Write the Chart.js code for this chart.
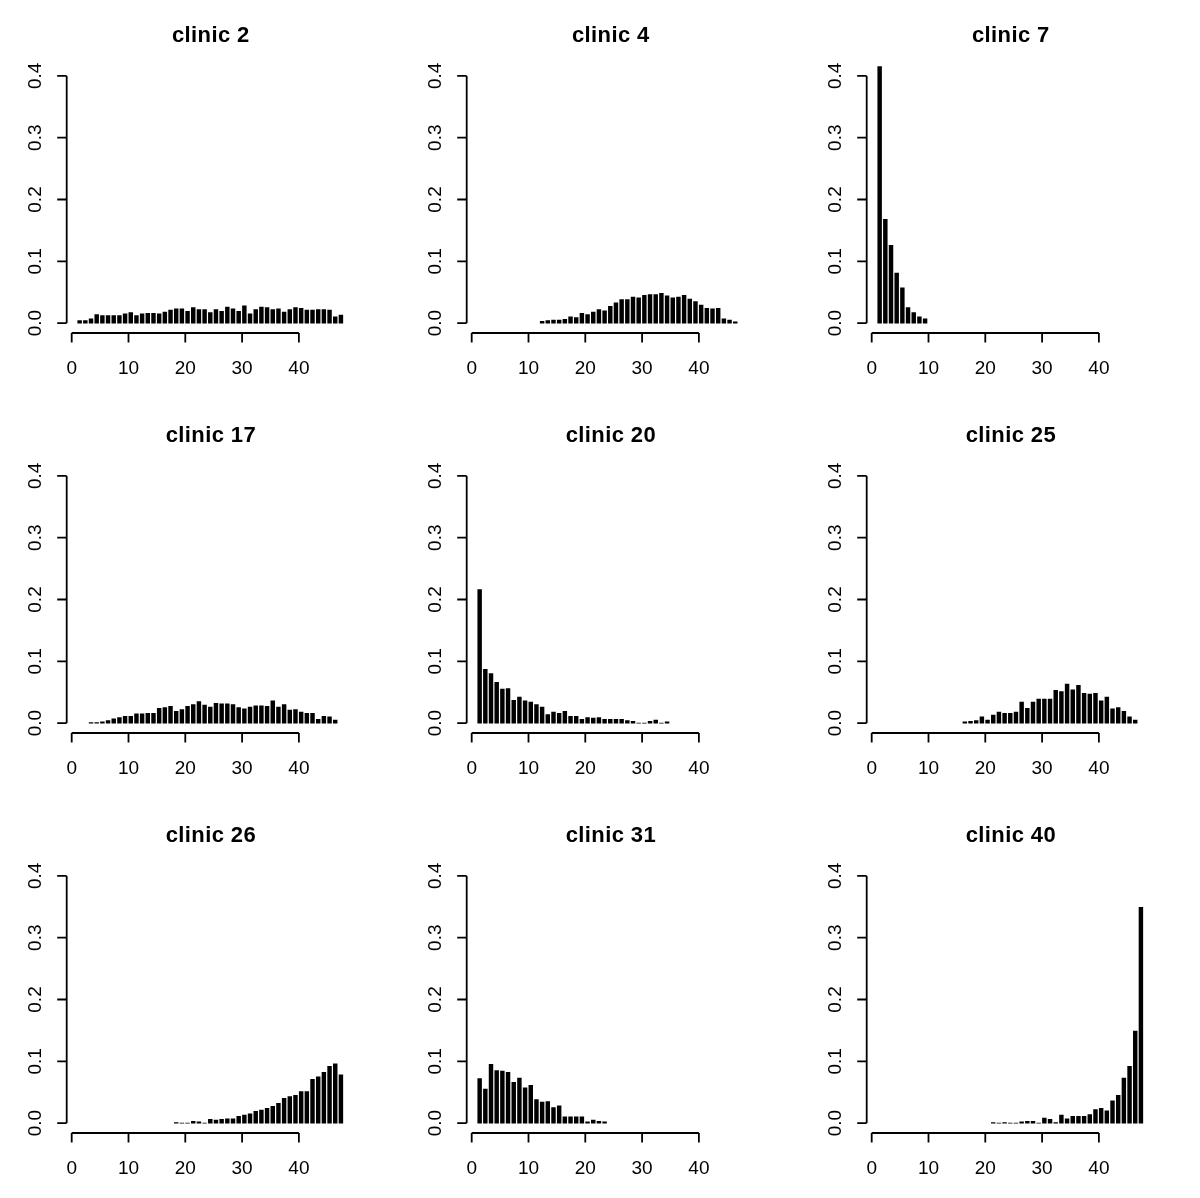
<!DOCTYPE html>
<html>
<head>
<meta charset="utf-8">
<script src="https://cdn.jsdelivr.net/npm/chart.js@4"></script>
<style>
  html, body { margin: 0; padding: 0; background: #fff; overflow: hidden; }
  #grid { position: relative; width: 1200px; height: 1198px; }
  #grid canvas { position: absolute; }
</style>
</head>
<body>
<div id="grid"></div>
<script>
// panel titles, in reading order
const clinicTitles = ['clinic 2', 'clinic 4', 'clinic 7', 'clinic 17', 'clinic 20', 'clinic 25', 'clinic 26', 'clinic 31', 'clinic 40'];
// first x value of each series
const clinicStarts = [1, 12, 1, 3, 1, 16, 18, 1, 21];

// proportions per x value, starting at clinicStarts[i]
const clinic2 = [0.004, 0.004, 0.007, 0.014, 0.012, 0.012, 0.012, 0.012, 0.015, 0.017,
  0.012, 0.015, 0.016, 0.016, 0.015, 0.018, 0.021, 0.023, 0.023, 0.019,
  0.025, 0.022, 0.022, 0.017, 0.022, 0.019, 0.026, 0.023, 0.019, 0.028,
  0.015, 0.022, 0.026, 0.025, 0.022, 0.023, 0.018, 0.022, 0.025, 0.024,
  0.021, 0.021, 0.022, 0.022, 0.021, 0.010, 0.013];
const clinic4 = [0.003, 0.004, 0.005, 0.005, 0.006, 0.010, 0.009, 0.016, 0.014, 0.018,
  0.022, 0.020, 0.027, 0.033, 0.038, 0.038, 0.042, 0.041, 0.045, 0.046,
  0.046, 0.048, 0.044, 0.041, 0.042, 0.045, 0.039, 0.035, 0.029, 0.024,
  0.023, 0.024, 0.007, 0.005, 0.002];
const clinic7 = [0.415, 0.168, 0.126, 0.081, 0.057, 0.025, 0.017, 0.010, 0.007];
const clinic17 = [0.001, 0.001, 0.002, 0.004, 0.007, 0.009, 0.011, 0.011, 0.015, 0.015,
  0.016, 0.016, 0.024, 0.025, 0.027, 0.019, 0.022, 0.027, 0.030, 0.035,
  0.029, 0.026, 0.032, 0.031, 0.031, 0.030, 0.025, 0.023, 0.026, 0.028,
  0.028, 0.027, 0.036, 0.026, 0.030, 0.021, 0.022, 0.018, 0.016, 0.016,
  0.006, 0.011, 0.010, 0.005];
const clinic20 = [0.216, 0.087, 0.080, 0.066, 0.055, 0.056, 0.037, 0.042, 0.036, 0.034,
  0.030, 0.026, 0.014, 0.018, 0.016, 0.019, 0.011, 0.011, 0.006, 0.009,
  0.008, 0.009, 0.006, 0.006, 0.006, 0.006, 0.004, 0.003, 0, 0,
  0.003, 0.005, 0, 0.002];
const clinic25 = [0.002, 0.003, 0.004, 0.010, 0.005, 0.013, 0.018, 0.016, 0.016, 0.018,
  0.034, 0.024, 0.034, 0.039, 0.039, 0.039, 0.053, 0.051, 0.063, 0.054,
  0.061, 0.048, 0.047, 0.048, 0.036, 0.042, 0.023, 0.025, 0.019, 0.010,
  0.005];
const clinic26 = [0.001, 0, 0, 0.003, 0.002, 0, 0.006, 0.005, 0.006, 0.007,
  0.007, 0.011, 0.013, 0.015, 0.019, 0.021, 0.024, 0.027, 0.032, 0.040,
  0.043, 0.045, 0.051, 0.051, 0.071, 0.075, 0.082, 0.092, 0.096, 0.078];
const clinic31 = [0.072, 0.055, 0.095, 0.085, 0.084, 0.082, 0.066, 0.073, 0.057, 0.061,
  0.038, 0.034, 0.035, 0.025, 0.028, 0.010, 0.010, 0.010, 0.010, 0.002,
  0.005, 0.003, 0.002];
const clinic40 = [0.001, 0, 0.001, 0, 0, 0.002, 0.003, 0.003, 0, 0.008,
  0.006, 0.001, 0.013, 0.007, 0.011, 0.011, 0.011, 0.014, 0.022, 0.024,
  0.020, 0.036, 0.045, 0.073, 0.092, 0.149, 0.349];

const clinicSeries = [clinic2, clinic4, clinic7, clinic17, clinic20, clinic25, clinic26, clinic31, clinic40];

const xTicks = [0, 10, 20, 30, 40];
const yTicks = [0, 0.1, 0.2, 0.3, 0.4];
const yLabels = ['0.0', '0.1', '0.2', '0.3', '0.4'];

// R style plot ranges (4% extension)
const X_MIN = -0.88, X_MAX = 49.88;
const Y_MIN = -0.016, Y_MAX = 0.416;
const BAR_SHIFT = 0.4;   // bars sit a little right of the integer
const FONT = '"Liberation Sans", Arial, Helvetica, sans-serif';

// axes, tick labels and title drawn the R way
const rAxes = {
  id: 'rAxes',
  afterDraw(chart, args, opts) {
    const ctx = chart.ctx;
    const xs = chart.scales.x, ys = chart.scales.y;
    const area = chart.chartArea;
    const tick = 9.5;
    ctx.save();
    ctx.strokeStyle = '#000';
    ctx.fillStyle = '#000';
    ctx.lineWidth = 1.8;
    ctx.lineCap = 'butt';

    // y axis
    const left = area.left;
    ctx.beginPath();
    ctx.moveTo(left, ys.getPixelForValue(yTicks[0]));
    ctx.lineTo(left, ys.getPixelForValue(yTicks[yTicks.length - 1]));
    yTicks.forEach(v => {
      const py = ys.getPixelForValue(v);
      ctx.moveTo(left, py);
      ctx.lineTo(left - tick, py);
    });
    ctx.stroke();

    ctx.font = '19px ' + FONT;
    ctx.textAlign = 'center';
    ctx.textBaseline = 'alphabetic';
    yTicks.forEach((v, i) => {
      const py = ys.getPixelForValue(v);
      ctx.save();
      ctx.translate(left - 26, py);
      ctx.rotate(-Math.PI / 2);
      ctx.fillText(yLabels[i], 0, 0);
      ctx.restore();
    });

    // x axis
    const bottom = area.bottom;
    ctx.beginPath();
    ctx.moveTo(xs.getPixelForValue(xTicks[0]), bottom);
    ctx.lineTo(xs.getPixelForValue(xTicks[xTicks.length - 1]), bottom);
    xTicks.forEach(v => {
      const px = xs.getPixelForValue(v);
      ctx.moveTo(px, bottom);
      ctx.lineTo(px, bottom + tick);
    });
    ctx.stroke();
    xTicks.forEach(v => {
      ctx.fillText(String(v), xs.getPixelForValue(v), bottom + 41);
    });

    // title
    ctx.font = 'bold 22px ' + FONT;
    ctx.letterSpacing = '0.4px';
    ctx.fillText(opts.title, (area.left + area.right) / 2, area.top - 24.5);
    ctx.restore();
  }
};

const grid = document.getElementById('grid');

clinicSeries.forEach((values, i) => {
  const canvas = document.createElement('canvas');
  canvas.width = 400;
  canvas.height = 400;
  canvas.style.left = (400 * (i % 3)) + 'px';
  canvas.style.top = (400 * Math.floor(i / 3)) + 'px';
  grid.appendChild(canvas);

  const points = values.map((v, k) => ({ x: clinicStarts[i] + k + BAR_SHIFT, y: v }));

  new Chart(canvas, {
    type: 'bar',
    data: {
      datasets: [{
        data: points,
        backgroundColor: '#000',
        borderWidth: 0,
        barThickness: 3.8
      }]
    },
    options: {
      responsive: false,
      animation: false,
      devicePixelRatio: 1,
      layout: { padding: { left: 66.7, right: 45, top: 66, bottom: 67 } },
      scales: {
        x: { type: 'linear', offset: false, min: X_MIN, max: X_MAX, display: false },
        y: { min: Y_MIN, max: Y_MAX, display: false }
      },
      plugins: {
        legend: { display: false },
        tooltip: { enabled: false },
        rAxes: { title: clinicTitles[i] }
      }
    },
    plugins: [rAxes]
  });
});
</script>
</body>
</html>
